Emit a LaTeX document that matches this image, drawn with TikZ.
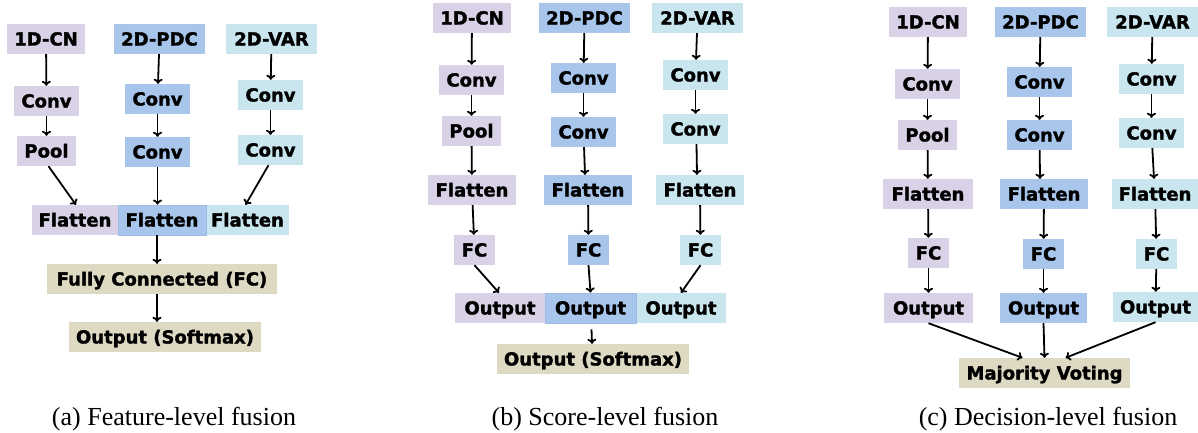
\documentclass[tikz,border=0pt]{standalone}
\usepackage{fontspec}
\usetikzlibrary{arrows.meta}
\newfontfamily\boxfont[BoldFeatures={FakeBold=1.6}]{DejaVu Sans}
\newfontfamily\capfont{Liberation Serif}
\definecolor{pu}{HTML}{D9D2E6}
\definecolor{bl}{HTML}{A8C5EC}
\definecolor{cy}{HTML}{C9E6EE}
\definecolor{tn}{HTML}{DDD9C3}
\definecolor{bledge}{HTML}{9DBDE8}
\tikzset{
  bx/.style={rectangle, inner sep=0pt, minimum height=30pt, text height=13pt, text depth=0pt,
    font=\boxfont\bfseries\fontsize{18}{20}\selectfont, align=center},
  pub/.style={bx, fill=pu},
  blb/.style={bx, fill=bl},
  cyb/.style={bx, fill=cy},
  tnb/.style={bx, fill=tn},
  arr/.style={-{To[length=5pt,width=9pt]}, line width=1.8pt, black},
  captxt/.style={anchor=base, font=\capfont\fontsize{26}{28}\selectfont}
}
\begin{document}
\begin{tikzpicture}[x=1pt,y=-1pt]
\useasboundingbox (0,0) rectangle (1198,432);
% ---------------- (a) ----------------
\node[pub, minimum width=78] (acn) at (46,39) {1D-CN};
\node[blb, minimum width=91] (apdc) at (159.5,39) {2D-PDC};
\node[cyb, minimum width=91] (avar) at (271.5,39) {2D-VAR};
\node[pub, minimum width=65] (ac1) at (46.5,101) {Conv};
\node[blb, minimum width=65] (ac2) at (157.5,99) {Conv};
\node[cyb, minimum width=65] (ac3) at (270.5,95) {Conv};
\node[pub, minimum width=59] (apool) at (46.5,151) {Pool};
\node[blb, minimum width=65] (ac2b) at (157.5,152) {Conv};
\node[cyb, minimum width=65] (ac3b) at (270.5,150) {Conv};
\node[pub, minimum width=86] (af1) at (75,220) {Flatten};
\node[cyb, minimum width=83] (af3) at (247.5,220) {Flatten};
\node[blb, minimum width=88, draw=bledge, line width=0.8pt] (af2) at (162,220) {Flatten};
\node[tnb, minimum width=230] (afc) at (162,279) {Fully Connected (FC)};
\node[tnb, minimum width=192] (aout) at (165,337) {Output (Softmax)};
\node[captxt] (capa) at (174,425) {(a) Feature-level fusion};
\draw[arr] (acn) -- (ac1);
\draw[arr] (ac1) -- (apool);
\draw[arr] (apdc) -- (ac2);
\draw[arr] (ac2) -- (ac2b);
\draw[arr] (avar) -- (ac3);
\draw[arr] (ac3) -- (ac3b);
\draw[arr] ([xshift=2pt]apool.south) -- ([xshift=1pt]af1.north);
\draw[arr] ([xshift=-2pt]ac3b.south) -- ([xshift=-2pt]af3.north);
\draw[arr] (ac2b.south) -- ([xshift=-4.5pt]af2.north);
\draw[arr] ([xshift=-5pt]af2.south) -- ([xshift=-5pt]afc.north);
\draw[arr] ([xshift=-5pt]afc.south) -- ([xshift=-8pt]aout.north);
% ---------------- (b) ----------------
\node[pub, minimum width=78] (bcn) at (472,18) {1D-CN};
\node[blb, minimum width=91] (bpdc) at (584.5,18) {2D-PDC};
\node[cyb, minimum width=91] (bvar) at (697.5,18) {2D-VAR};
\node[pub, minimum width=65] (bc1) at (471.5,80) {Conv};
\node[blb, minimum width=65] (bc2) at (583.5,78) {Conv};
\node[cyb, minimum width=65] (bc3) at (695.5,75) {Conv};
\node[pub, minimum width=59] (bpool) at (471.5,131) {Pool};
\node[blb, minimum width=65] (bc2b) at (583.5,132) {Conv};
\node[cyb, minimum width=65] (bc3b) at (695.5,129) {Conv};
\node[pub, minimum width=88] (bf1) at (472,190) {Flatten};
\node[blb, minimum width=88] (bf2) at (588,190) {Flatten};
\node[cyb, minimum width=88] (bf3) at (700,190) {Flatten};
\node[pub, minimum width=41] (bfc1) at (474.5,250) {FC};
\node[blb, minimum width=41] (bfc2) at (588.5,250) {FC};
\node[cyb, minimum width=41] (bfc3) at (700.5,250) {FC};
\node[pub, minimum width=90] (bo1) at (500,308) {Output};
\node[cyb, minimum width=90] (bo3) at (681,308) {Output};
\node[blb, minimum width=91, draw=bledge, line width=0.8pt] (bo2) at (590.5,308) {Output};
\node[tnb, minimum width=192] (bsm) at (593,359) {Output (Softmax)};
\node[captxt] (capb) at (605,425) {(b) Score-level fusion};
\draw[arr] (bcn) -- (bc1);
\draw[arr] (bc1) -- (bpool);
\draw[arr] (bpool) -- (bf1);
\draw[arr] (bf1) -- (bfc1);
\draw[arr] (bpdc) -- (bc2);
\draw[arr] (bc2) -- (bc2b);
\draw[arr] (bc2b) -- ([xshift=-3pt]bf2.north);
\draw[arr] (bf2) -- (bfc2);
\draw[arr] (bvar) -- (bc3);
\draw[arr] (bc3) -- (bc3b);
\draw[arr] ([xshift=1pt]bc3b.south) -- ([xshift=-3pt]bf3.north);
\draw[arr] (bf3) -- (bfc3);
\draw[arr] (bfc1.south) -- ([xshift=-1pt]bo1.north);
\draw[arr] (bfc2.south) -- (bo2.north);
\draw[arr] (bfc3.south) -- (bo3.north);
\draw[arr] ([xshift=1pt,yshift=-6pt]bo2.south) -- ([xshift=-1pt]bsm.north);
% ---------------- (c) ----------------
\node[pub, minimum width=78] (ccn) at (928,22) {1D-CN};
\node[blb, minimum width=91] (cpdc) at (1040.5,22) {2D-PDC};
\node[cyb, minimum width=91] (cvar) at (1152.5,22) {2D-VAR};
\node[pub, minimum width=65] (cc1) at (927.5,84) {Conv};
\node[blb, minimum width=65] (cc2) at (1039.5,82) {Conv};
\node[cyb, minimum width=65] (cc3) at (1151.5,79) {Conv};
\node[pub, minimum width=59] (cpool) at (927.5,135) {Pool};
\node[blb, minimum width=65] (cc2b) at (1039.5,135) {Conv};
\node[cyb, minimum width=65] (cc3b) at (1151.5,133) {Conv};
\node[pub, minimum width=90] (cf1) at (928,194) {Flatten};
\node[blb, minimum width=88] (cf2) at (1044,194) {Flatten};
\node[cyb, minimum width=86] (cf3) at (1155,194) {Flatten};
\node[pub, minimum width=41] (cfc1) at (928.5,253) {FC};
\node[blb, minimum width=41] (cfc2) at (1043.5,254) {FC};
\node[cyb, minimum width=41] (cfc3) at (1156.5,254) {FC};
\node[pub, minimum width=89] (co1) at (928.5,308) {Output};
\node[blb, minimum width=87] (co2) at (1043.5,308) {Output};
\node[cyb, minimum width=85] (co3) at (1155.5,307) {Output};
\node[tnb, minimum width=171] (cmv) at (1044.5,373) {Majority Voting};
\node[captxt] (capc) at (1048,425) {(c) Decision-level fusion};
\draw[arr] (ccn) -- (cc1);
\draw[arr] (cc1) -- (cpool);
\draw[arr] (cpool) -- (cf1);
\draw[arr] (cf1) -- (cfc1);
\draw[arr] (cfc1) -- (co1);
\draw[arr] (cpdc) -- (cc2);
\draw[arr] (cc2) -- (cc2b);
\draw[arr] (cc2b) -- ([xshift=-4pt]cf2.north);
\draw[arr] (cf2) -- (cfc2);
\draw[arr] (cfc2) -- (co2);
\draw[arr] (cvar) -- (cc3);
\draw[arr] (cc3) -- (cc3b);
\draw[arr] (cc3b) -- ([xshift=-1pt]cf3.north);
\draw[arr] (cf3) -- (cfc3);
\draw[arr] (cfc3) -- (co3);
\draw[arr] (co1.south) -- ([xshift=-22pt]cmv.north);
\draw[arr] (co2.south) -- (cmv.north);
\draw[arr] (co3.south) -- ([xshift=21pt]cmv.north);
\end{tikzpicture}
\end{document}
